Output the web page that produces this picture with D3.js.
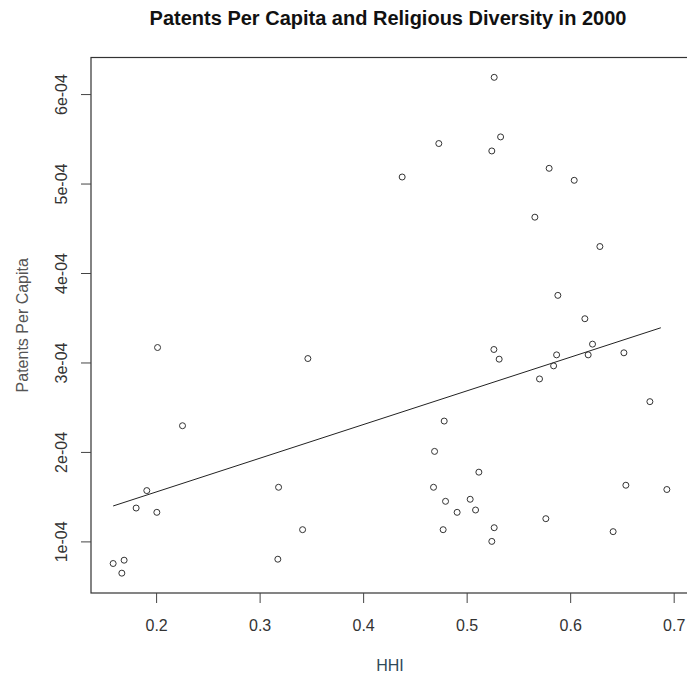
<!DOCTYPE html>
<html>
<head>
<meta charset="utf-8">
<script src="https://cdn.jsdelivr.net/npm/d3@7"></script>
<style>
  body { margin: 0; background: #fff; }
  svg { display: block; font-family: Arial, "Liberation Sans", sans-serif; }
  .tick text { fill: #333; font-size: 16px; }
  .tick line { stroke: #444; }
  .domain { display: none; }
</style>
</head>
<body>
<div id="chart"></div>
<script>
// HHI (religious concentration) per state
const hhi = [0.5266, 0.4731, 0.5328, 0.5243, 0.4377, 0.5797, 0.6039, 0.5659, 0.6287, 0.5881,
             0.6142, 0.2014, 0.3466, 0.2255, 0.3183, 0.1910, 0.1807, 0.2007, 0.3415, 0.1585,
             0.1691, 0.1669, 0.3176, 0.5263, 0.5314, 0.5869, 0.5840, 0.5704, 0.6216, 0.6174,
             0.6519, 0.6770, 0.4783, 0.4690, 0.5118, 0.4680, 0.4796, 0.4908, 0.5034, 0.5086,
             0.4773, 0.5266, 0.5243, 0.5765, 0.6415, 0.6538, 0.6934];

// patents per capita, same order
const patents = [6.187e-4, 5.447e-4, 5.521e-4, 5.364e-4, 5.073e-4, 5.170e-4, 5.036e-4, 4.624e-4, 4.296e-4, 3.750e-4,
                 3.489e-4, 3.167e-4, 3.044e-4, 2.293e-4, 1.605e-4, 1.568e-4, 1.373e-4, 1.325e-4, 1.131e-4, 0.753e-4,
                 0.790e-4, 0.645e-4, 0.801e-4, 3.145e-4, 3.037e-4, 3.085e-4, 2.962e-4, 2.816e-4, 3.205e-4, 3.085e-4,
                 3.108e-4, 2.562e-4, 2.345e-4, 2.006e-4, 1.774e-4, 1.605e-4, 1.448e-4, 1.325e-4, 1.471e-4, 1.351e-4,
                 1.131e-4, 1.153e-4, 1.000e-4, 1.254e-4, 1.109e-4, 1.628e-4, 1.580e-4];

// fitted line end points
const fitX = [0.1585, 0.6876];
const fitY = [1.396e-4, 3.388e-4];

const xTicks = [0.2, 0.3, 0.4, 0.5, 0.6, 0.7];
const yTicks = [1e-4, 2e-4, 3e-4, 4e-4, 5e-4, 6e-4];

const width = 687, height = 678;
const plot = { left: 91, right: 689, top: 57.5, bottom: 593 };

// R style limits: data range padded by 4% each side
function padded(values) {
    const ext = d3.extent(values);
    const r = ext[1] - ext[0];
    return [ext[0] - 0.04 * r, ext[1] + 0.04 * r];
}

const x = d3.scaleLinear().domain(padded(hhi)).range([plot.left, plot.right]);
const y = d3.scaleLinear().domain(padded(patents)).range([plot.bottom, plot.top]);

const svg = d3.select('#chart')
    .append('svg')
    .attr('width', width)
    .attr('height', height);

svg.append('text')
    .attr('x', 388)
    .attr('y', 25)
    .attr('text-anchor', 'middle')
    .style('font-size', '20px')
    .style('font-weight', 'bold')
    .style('fill', '#111')
    .text('Patents Per Capita and Religious Diversity in 2000');

// plot frame
svg.append('rect')
    .attr('x', plot.left)
    .attr('y', plot.top)
    .attr('width', plot.right - plot.left)
    .attr('height', plot.bottom - plot.top)
    .attr('fill', 'none')
    .attr('stroke', '#333')
    .attr('stroke-width', 1.2);

svg.append('g')
    .attr('transform', `translate(0,${plot.bottom})`)
    .call(d3.axisBottom(x).tickValues(xTicks).tickSize(10).tickPadding(17).tickFormat(d3.format('.1f')));

const yAxis = svg.append('g')
    .attr('transform', `translate(${plot.left},0)`)
    .call(d3.axisLeft(y).tickValues(yTicks).tickSize(10).tickFormat(d => Math.round(d * 1e4) + 'e-04'));

yAxis.selectAll('.tick text')
    .attr('transform', 'rotate(-90)')
    .attr('x', 0)
    .attr('dx', 0)
    .attr('y', -24)
    .attr('dy', 0)
    .attr('text-anchor', 'middle');

svg.append('text')
    .attr('x', 390)
    .attr('y', 671)
    .attr('text-anchor', 'middle')
    .style('font-size', '16px')
    .style('fill', '#2f4a5a')
    .text('HHI');

svg.append('text')
    .attr('transform', `translate(28,${(plot.top + plot.bottom) / 2}) rotate(-90)`)
    .attr('text-anchor', 'middle')
    .style('font-size', '16px')
    .style('fill', '#555')
    .text('Patents Per Capita');

// regression line
svg.append('path')
    .datum(fitX.map((d, i) => [d, fitY[i]]))
    .attr('d', d3.line().x(d => x(d[0])).y(d => y(d[1])))
    .attr('fill', 'none')
    .attr('stroke', '#222')
    .attr('stroke-width', 1);

svg.append('g')
    .selectAll('circle')
    .data(hhi.map((d, i) => ({ hhi: d, patents: patents[i] })))
    .enter()
    .append('circle')
    .attr('cx', d => x(d.hhi))
    .attr('cy', d => y(d.patents))
    .attr('r', 3)
    .attr('fill', 'none')
    .attr('stroke', '#333')
    .attr('stroke-width', 1);
</script>
</body>
</html>
